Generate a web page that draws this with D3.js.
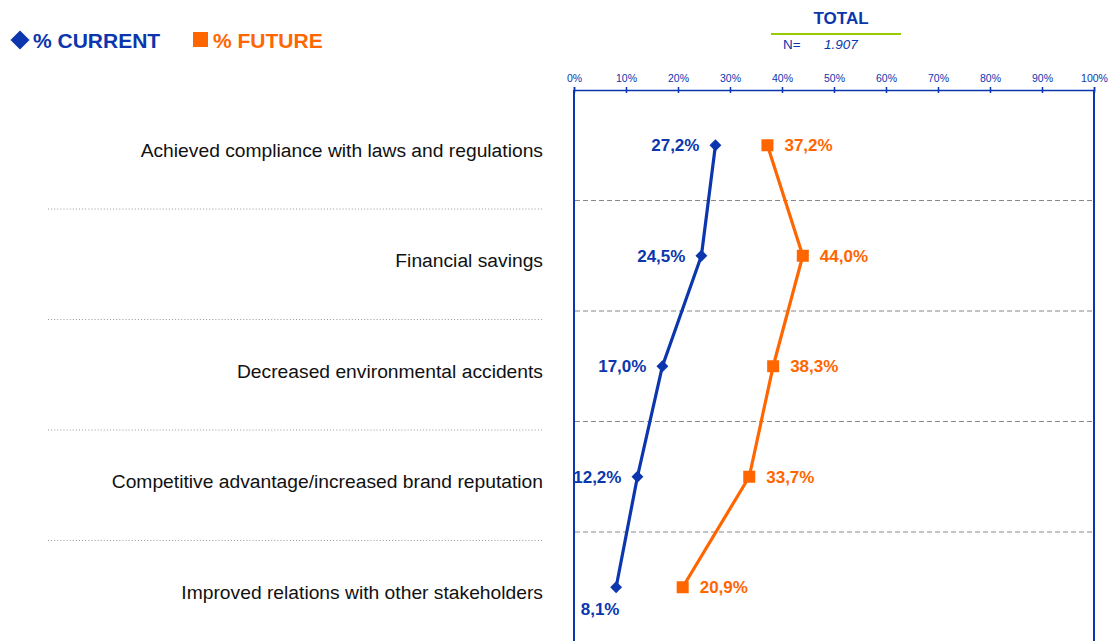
<!DOCTYPE html>
<html>
<head>
<meta charset="utf-8">
<script src="https://cdn.jsdelivr.net/npm/d3@7"></script>
<style>
body{margin:0;background:#fff;}
svg{display:block;font-family:Arial,"Liberation Sans",sans-serif;}
</style>
</head>
<body>
<div id="chart"></div>
<script>
// values
var categories=['Achieved compliance with laws and regulations','Financial savings',
    'Decreased environmental accidents','Competitive advantage/increased brand reputation',
    'Improved relations with other stakeholders'];
var current=[27.2,24.5,17.0,12.2,8.1];
var future=[37.2,44.0,38.3,33.7,20.9];
var ticks=[0,10,20,30,40,50,60,70,80,90,100];

var blue='#0b36ad', orange='#ff6600';
var W=1110,H=641;
var svg=d3.select('#chart').append('svg').attr('width',W).attr('height',H);

var x=d3.scaleLinear().domain([0,100]).range([574,1094]);
var y=d3.scaleBand().domain(categories).range([90,642.5]);
var fmt=function(v){return v.toFixed(1).replace('.',',')+'%';};

// legend
svg.append('path').attr('d',d3.symbol().type(d3.symbolDiamond2).size(230)())
    .attr('transform','translate(20,40)').style('fill',blue);
svg.append('text').attr('x',33).attr('y',48).text('% CURRENT')
    .attr('font-size','21px').attr('font-weight','bold').style('fill',blue);
svg.append('rect').attr('x',193).attr('y',32).attr('width',15).attr('height',15).style('fill',orange);
svg.append('text').attr('x',213).attr('y',48).text('% FUTURE')
    .attr('font-size','21px').attr('font-weight','bold').style('fill',orange);

// header
svg.append('text').attr('x',841).attr('y',24).attr('text-anchor','middle').text('TOTAL')
    .attr('font-size','17px').attr('font-weight','bold').style('fill',blue);
svg.append('line').attr('x1',771).attr('x2',901).attr('y1',34).attr('y2',34)
    .style('stroke','#99cc00').style('stroke-width',2);
svg.append('text').attr('x',783).attr('y',49).text('N=').attr('font-size','13.5px').style('fill',blue);
svg.append('text').attr('x',824).attr('y',49).text('1.907').attr('font-size','13.5px')
    .attr('font-style','italic').style('fill',blue);

// axis
var ax=svg.append('g').attr('transform','translate(0,90)')
    .call(d3.axisTop(x).tickValues(ticks).tickSize(3).tickPadding(5).tickFormat(function(d){return d+'%';}));
ax.selectAll('path,line').style('stroke',blue).style('stroke-width',1.5);
ax.selectAll('text').style('fill',blue).attr('font-size','10.5px').attr('font-family','Arial,"Liberation Sans",sans-serif');
ax.selectAll('.tick line').attr('y2',-3).attr('y1',3);

// frame sides
[0,100].forEach(function(v){
    svg.append('line').attr('x1',x(v)).attr('x2',x(v)).attr('y1',90).attr('y2',H)
        .style('stroke',blue).style('stroke-width',2);
});

// separators
categories.slice(1).forEach(function(c){
    var yy=y(c);
    svg.append('line').attr('x1',x(0)+1).attr('x2',x(100)-1).attr('y1',yy).attr('y2',yy)
        .style('stroke','#888').style('stroke-width',1.2).style('stroke-dasharray','5,3');
    svg.append('line').attr('x1',48).attr('x2',544).attr('y1',yy+8.5).attr('y2',yy+8.5)
        .style('stroke','#999').style('stroke-width',1).style('stroke-dasharray','1,2.1');
});

// category labels
svg.selectAll('.cat').data(categories).enter().append('text')
    .attr('class','cat').attr('x',543).attr('y',function(d){return y(d)+y.bandwidth()/2+11.5;})
    .attr('text-anchor','end').attr('font-size','19.25px').style('fill','#111').text(function(d){return d;});

var cy=function(i){return y(categories[i])+y.bandwidth()/2;};
var line=d3.line().x(function(d){return x(d);}).y(function(d,i){return cy(i);});

svg.append('path').attr('d',line(current)).style('fill','none').style('stroke',blue).style('stroke-width',3.2);
svg.append('path').attr('d',line(future)).style('fill','none').style('stroke',orange).style('stroke-width',3.2);

svg.selectAll('.cm').data(current).enter().append('path').attr('class','cm')
    .attr('d',d3.symbol().type(d3.symbolDiamond2).size(90)())
    .attr('transform',function(d,i){return 'translate('+x(d)+','+cy(i)+')';}).style('fill',blue);
svg.selectAll('.fm').data(future).enter().append('rect').attr('class','fm')
    .attr('x',function(d){return x(d)-6;}).attr('y',function(d,i){return cy(i)-6;})
    .attr('width',12).attr('height',12).style('fill',orange);

// value labels
svg.selectAll('.cl').data(current).enter().append('text').attr('class','cl')
    .attr('x',function(d,i){return x(d)-16;})
    .attr('y',function(d,i){return i==4?cy(i)+28:cy(i)+6;})
    .attr('text-anchor',function(d,i){return i==4?'middle':'end';})
    .attr('font-size','17px').attr('font-weight','bold').style('fill',blue).text(fmt);
svg.selectAll('.fl').data(future).enter().append('text').attr('class','fl')
    .attr('x',function(d){return x(d)+17;}).attr('y',function(d,i){return cy(i)+6;})
    .attr('font-size','17px').attr('font-weight','bold').style('fill',orange).text(fmt);
</script>
</body>
</html>
